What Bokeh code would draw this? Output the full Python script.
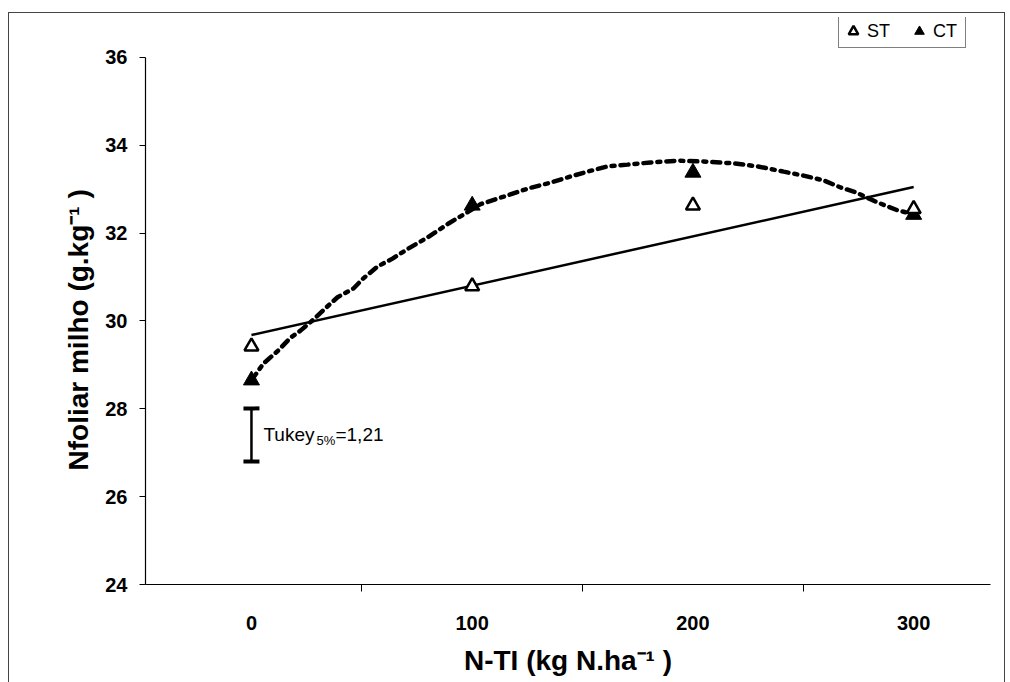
from bokeh.plotting import figure
from bokeh.models import (FixedTicker, Legend, LegendItem, Label, Range1d, Title,
                          Whisker, TeeHead, ColumnDataSource)
from bokeh.embed import file_html
from bokeh.resources import INLINE

# ---- data ----
doses = [0, 100, 200, 300]
st_values = [29.42, 30.79, 32.63, 32.55]
ct_values = [28.65, 32.63, 33.38, 32.42]

st_trend_x = [0, 300]
st_trend_y = [29.68, 33.05]

ct_curve_x = [0, 5.4, 12.2, 17.7, 22.2, 27.6, 33.5, 39.0, 46.2, 50.7, 57.1, 63.9,
              71.1, 79.7, 89.3, 98.3, 103.8, 116.0, 125.5, 135.5, 144.5, 152.2,
              161.3, 170.4, 180.8, 193.0, 204.8, 218.4, 229.3, 241.1, 250.1,
              259.2, 266.9, 273.7, 283.6, 292.7, 300]
ct_curve_y = [28.65, 29.03, 29.33, 29.62, 29.78, 30.01, 30.29, 30.54, 30.74, 30.97,
              31.24, 31.42, 31.65, 31.90, 32.22, 32.49, 32.66, 32.86, 33.02, 33.15,
              33.29, 33.40, 33.52, 33.56, 33.61, 33.65, 33.63, 33.59, 33.52, 33.40,
              33.31, 33.20, 33.04, 32.93, 32.70, 32.52, 32.43]

tukey_x = [0]
tukey_low = [26.80]
tukey_high = [28.01]
tukey_text = ["Tukey", "5%", "=1,21"]

x_ticks = [0, 100, 200, 300]
x_minor_ticks = [50, 150, 250]
y_ticks = [24, 26, 28, 30, 32, 34, 36]
x_title = "N-TI (kg N.ha\u207b\u00b9 )"
y_title = "Nfoliar milho (g.kg\u207b\u00b9 )"

FONT = "Liberation Sans"

p = figure(width=997, height=670, output_backend="svg", toolbar_location=None,
           x_range=Range1d(-48, 334.8), y_range=Range1d(24, 36.91),
           min_border_left=136, min_border_right=16, min_border_top=4,
           min_border_bottom=99)
p.styles = {"margin-left": "8px", "margin-top": "12px",
            "border-left": "1px solid #444", "border-top": "1px solid #444",
            "border-right": "1px solid #444"}
p.outline_line_color = None
p.grid.visible = False
p.background_fill_color = "white"

# axes
xa = p.xaxis[0]
xa.ticker = FixedTicker(ticks=x_ticks, minor_ticks=x_minor_ticks)
xa.major_tick_out = 0
xa.major_tick_in = 0
xa.minor_tick_out = 7
xa.minor_tick_in = 0
xa.minor_tick_line_color = "black"
xa.major_label_standoff = 24
xa.axis_label = x_title
xa.axis_label_standoff = 12

ya = p.yaxis[0]
ya.ticker = FixedTicker(ticks=y_ticks)
ya.bounds = (24, 36)
ya.major_tick_out = 6
ya.major_tick_in = 0
ya.minor_tick_out = 0
ya.minor_tick_in = 0
ya.major_label_standoff = 12

for ax in (xa, ya):
    ax.axis_line_color = "black"
    ax.axis_line_width = 1.2
    ax.major_tick_line_color = "black"
    ax.major_label_text_font = FONT
    ax.major_label_text_font_style = "bold"
    ax.major_label_text_font_size = "20px"
    ax.major_label_text_color = "black"
    ax.axis_label_text_font = FONT
    ax.axis_label_text_font_style = "bold"
    ax.axis_label_text_font_size = "28px"
    ax.axis_label_text_color = "black"

# y title placed in the left panel, starting ~114 px above the x axis
ytitle = Title(text=y_title, align="left", offset=114, standoff=17,
               text_font=FONT, text_font_style="bold", text_font_size="28px",
               text_color="black")
p.add_layout(ytitle, "left")

# ST linear trend
p.line(st_trend_x, st_trend_y, line_color="black", line_width=2.5)
# CT curve
p.line(ct_curve_x, ct_curve_y, line_color="black", line_width=4.5,
       line_dash="8 6 3 6", line_cap="round")

ct_r = p.scatter(doses, ct_values, marker="triangle", size=16,
                 fill_color="black", line_color="black", line_width=1)
st_r = p.scatter(doses, st_values, marker="triangle", size=14,
                 fill_color="white", line_color="black", line_width=2.5)

# Tukey bar
src = ColumnDataSource(dict(x=tukey_x, lo=tukey_low, hi=tukey_high))
w = Whisker(source=src, base="x", lower="lo", upper="hi",
            line_color="black", line_width=2.5,
            upper_head=TeeHead(size=16, line_width=4, line_color="black"),
            lower_head=TeeHead(size=16, line_width=4, line_color="black"))
p.add_layout(w)

ty = (tukey_low[0] + tukey_high[0]) / 2 + 0.02
p.add_layout(Label(x=tukey_x[0], y=ty, x_offset=12, text=tukey_text[0],
                   text_baseline="middle", text_font=FONT, text_font_size="19px",
                   text_color="black"))
p.add_layout(Label(x=tukey_x[0], y=ty, x_offset=65, y_offset=-6, text=tukey_text[1],
                   text_baseline="middle", text_font=FONT, text_font_size="13px",
                   text_color="black"))
p.add_layout(Label(x=tukey_x[0], y=ty, x_offset=84, text=tukey_text[2],
                   text_baseline="middle", text_font=FONT, text_font_size="19px",
                   text_color="black"))

legend = Legend(items=[LegendItem(label="ST", renderers=[st_r]),
                       LegendItem(label="CT", renderers=[ct_r])],
                orientation="horizontal", location=(693, 536))
legend.border_line_color = "black"
legend.border_line_width = 1
legend.background_fill_color = "white"
legend.background_fill_alpha = 1
legend.padding = 2
legend.margin = 0
legend.spacing = 10
legend.glyph_width = 24
legend.glyph_height = 28
legend.label_standoff = 2
legend.label_width = 30
legend.label_text_font = FONT
legend.label_text_font_size = "18px"
legend.label_text_color = "black"
p.add_layout(legend)

open("out.html", "w").write(file_html(p, INLINE))
